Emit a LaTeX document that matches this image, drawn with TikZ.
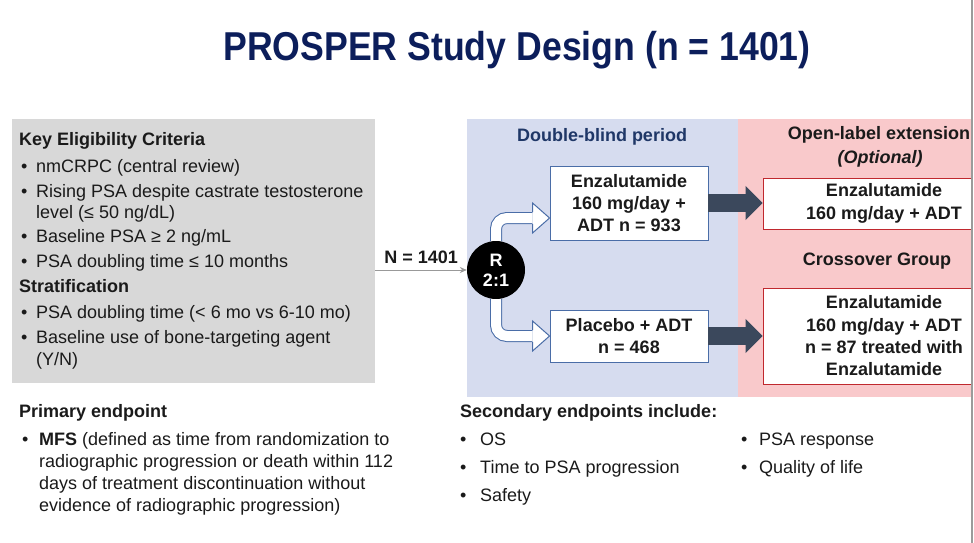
\documentclass[tikz,border=0pt]{standalone}
\usepackage{fontspec}
\setmainfont{Liberation Sans}
\usetikzlibrary{calc,arrows.meta}

\definecolor{titlenavy}{HTML}{0C1E5B}
\definecolor{dbblue}{HTML}{1F3767}
\definecolor{critgray}{HTML}{D8D8D8}
\definecolor{dbfill}{HTML}{D6DCEF}
\definecolor{olfill}{HTML}{F9C9CB}
\definecolor{armblue}{HTML}{4A6DA7}
\definecolor{olred}{HTML}{C0282E}
\definecolor{arrowslate}{HTML}{3B485C}
\definecolor{inkblack}{HTML}{1A1A1A}
\definecolor{edgegray}{HTML}{9B9B9B}

\newcommand{\critbul}{\makebox[15pt][l]{\textbullet}}
\newcommand{\primbul}{\makebox[17pt][l]{\textbullet}}
\newcommand{\secbul}{\makebox[20pt][l]{\textbullet}}

\begin{document}
\begin{tikzpicture}[
        x=1pt, y=-1pt,
        body/.style={anchor=base west, inner sep=0pt, text=inkblack, font=\fontsize{18}{22}\selectfont},
        head/.style={body, font=\fontsize{18}{22}\selectfont\bfseries},
        region/.style={anchor=north west, inner sep=0pt, draw=none},
        armbox/.style={draw=armblue, fill=white, line width=0.9pt, align=center, inner sep=0pt, text=inkblack, font=\fontsize{18}{22.3}\selectfont\bfseries},
        olbox/.style={armbox, draw=olred},
        randnode/.style={circle, fill=black, minimum size=58pt, inner sep=0pt, text=white, align=center, font=\fontsize{18}{20}\selectfont\bfseries},
        feedarrow/.style={draw=gray!80, line width=0.8pt, -{Stealth[length=7pt,width=6pt]}},
        blockarrow/.style={draw=arrowslate, line width=18pt, -{Triangle[length=17pt,width=33pt]}},
        bentshaft/.style={draw=armblue, line width=1pt, double=white, double distance=10pt, rounded corners=11pt},
        benthead/.style={draw=armblue, fill=white, line width=1pt, line join=miter}
    ]
        \useasboundingbox (0,0) rectangle (974,543);

        % Title
        \node[head, anchor=base, text=titlenavy, font=\fontsize{36}{40}\selectfont\bfseries] (title) at (517,61) {\scalebox{0.99}[1.12]{PROSPER Study Design (n = 1401)}};

        % Background regions
        \node[region, fill=critgray, minimum width=363pt, minimum height=264pt] (criteria) at (12,119) {};
        \node[region, fill=dbfill, minimum width=271pt, minimum height=278pt] (dbregion) at (467,119) {};
        \node[region, fill=olfill, minimum width=240pt, minimum height=278pt] (olregion) at (738,119) {};

        % Eligibility and stratification
        \node[head] (crithead) at (19,145) {Key Eligibility Criteria};
        \node[body] (crit1) at (21,172) {\critbul nmCRPC (central review)};
        \node[body] (crit2) at (21,197) {\critbul Rising PSA despite castrate testosterone};
        \node[body] (crit2b) at (36,218) {level (≤ 50 ng/dL)};
        \node[body] (crit3) at (21,242) {\critbul Baseline PSA ≥ 2 ng/mL};
        \node[body] (crit4) at (21,267) {\critbul PSA doubling time ≤ 10 months};
        \node[head] (strathead) at (19,292) {Stratification};
        \node[body] (strat1) at (21,318) {\critbul PSA doubling time (< 6 mo vs 6-10 mo)};
        \node[body] (strat2) at (21,343) {\critbul Baseline use of bone-targeting agent};
        \node[body] (strat2b) at (36,365) {(Y/N)};

        % Period headers
        \node[head, anchor=base, text=dbblue] (dbhead) at (602,141) {Double-blind period};
        \node[head, anchor=base] (olhead) at (879,139) {Open-label extension};
        \node[head, anchor=base, font=\fontsize{18}{22}\selectfont\bfseries\itshape] (olopt) at (880,163) {(Optional)};
        \node[head, anchor=base] (crosshead) at (877,265) {Crossover Group};

        % Treatment arms
        \node[armbox, minimum width=158pt, minimum height=74pt] (enza) at (629,203) {Enzalutamide\\160 mg/day +\\ADT n = 933};
        \node[armbox, minimum width=158pt, minimum height=52pt] (placebo) at (629,336) {Placebo + ADT\\n = 468};
        \node[olbox, minimum width=242pt, minimum height=51pt] (olenza) at (884,203.5) {Enzalutamide\\160 mg/day + ADT};
        \node[olbox, minimum width=242pt, minimum height=96pt] (olcross) at (884,336) {Enzalutamide\\160 mg/day + ADT\\n = 87 treated with\\Enzalutamide};

        % Randomisation
        \node[randnode] (rand) at (496,270) {R\\2:1};
        \draw[feedarrow] (criteria.east |- rand.west) -- (rand.west)
            node[midway, anchor=base, yshift=7pt, inner sep=0pt, text=inkblack, font=\fontsize{18}{22}\selectfont\bfseries] {N = 1401};

        \coordinate (uptip) at ($(enza.west)+(0,15)$);
        \draw[bentshaft] (rand.north) |- ($(uptip)+(-17,0)$);
        \filldraw[benthead] ($(uptip)+(-17,6)$) -- ++(0,9) -- (uptip) -- ++(-17,-15) -- ++(0,9);

        \coordinate (dntip) at (placebo.west);
        \draw[bentshaft] (rand.south) |- ($(dntip)+(-17,0)$);
        \filldraw[benthead] ($(dntip)+(-17,6)$) -- ++(0,9) -- (dntip) -- ++(-17,-15) -- ++(0,9);

        \draw[blockarrow] (enza.east) -- (enza.east -| olenza.west);
        \draw[blockarrow] (placebo.east) -- (placebo.east -| olcross.west);

        % Endpoints
        \node[head] (primhead) at (19,417) {Primary endpoint};
        \node[body] (prim1) at (22,445) {\primbul\textbf{MFS} (defined as time from randomization to};
        \node[body] (prim2) at (39,467) {radiographic progression or death within 112};
        \node[body] (prim3) at (39,489) {days of treatment discontinuation without};
        \node[body] (prim4) at (39,511) {evidence of radiographic progression)};

        \node[head] (sechead) at (460,417) {Secondary endpoints include:};
        \node[body] (sec1) at (460,445) {\secbul OS};
        \node[body] (sec2) at (460,473) {\secbul Time to PSA progression};
        \node[body] (sec3) at (460,501) {\secbul Safety};
        \node[body] (sec4) at (741,445) {\makebox[18pt][l]{\textbullet}PSA response};
        \node[body] (sec5) at (741,473) {\makebox[18pt][l]{\textbullet}Quality of life};

        % Right edge
        \fill[white] (973,0) rectangle (990,543);
        \draw[edgegray, line width=2pt] (972,0) -- (972,543);
    \end{tikzpicture}
\end{document}
